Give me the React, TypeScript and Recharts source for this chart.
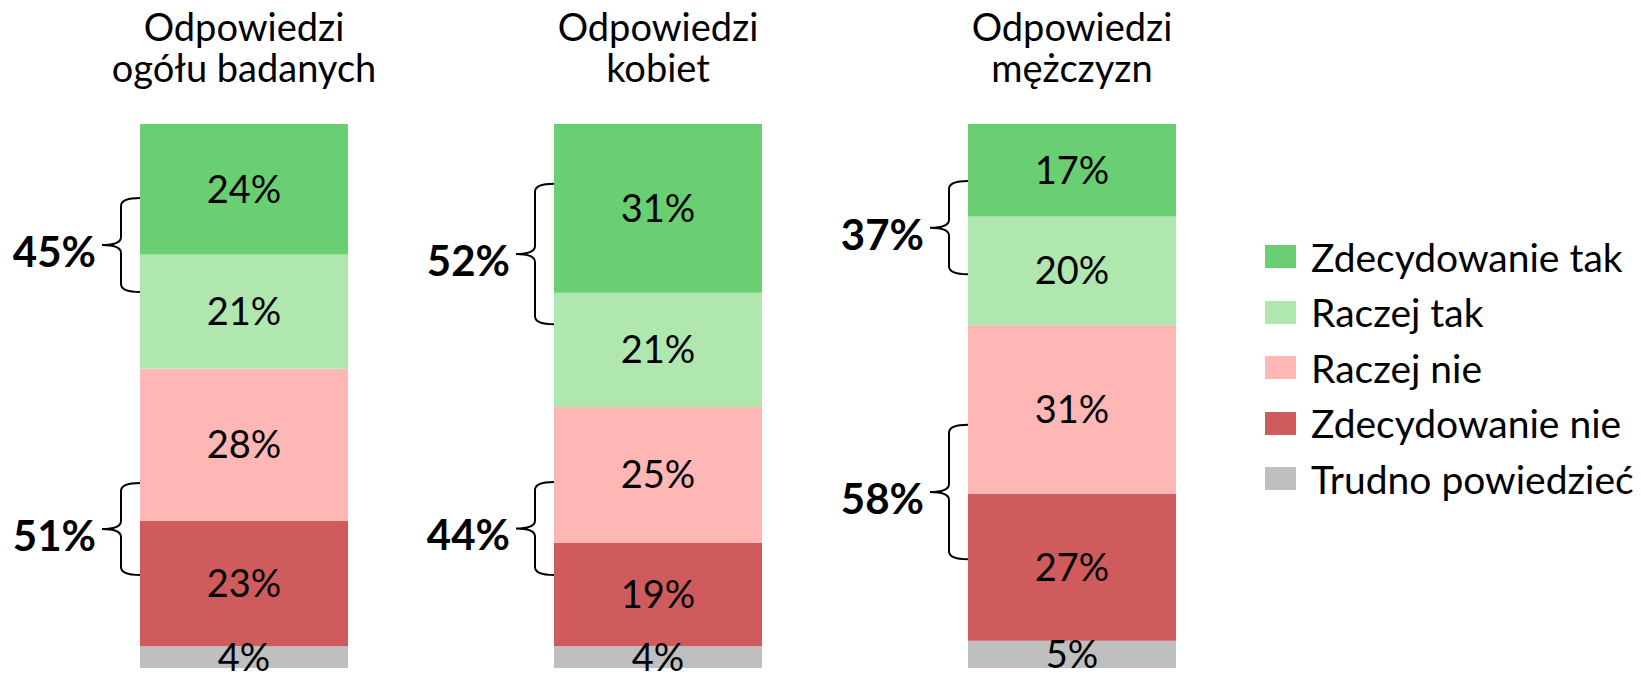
import React from 'react';
import { BarChart, Bar, XAxis, YAxis, LabelList } from 'recharts';

const categories = ['Odpowiedzi\nogółu badanych', 'Odpowiedzi\nkobiet', 'Odpowiedzi\nmężczyzn'];
const zdecydowanieTak = [24, 31, 17];
const raczejTak = [21, 21, 20];
const raczejNie = [28, 25, 31];
const zdecydowanieNie = [23, 19, 27];
const trudno = [4, 4, 5];

// summed answers shown next to the braces
const sumTak = [45, 52, 37];
const sumNie = [51, 44, 58];
// brace spans on the value axis [from, to]
const braceTak = [[86.4, 69.1], [89.0, 63.2], [89.5, 72.4]];
const braceNie = [[34.0, 17.1], [34.2, 17.1], [44.7, 20.0]];

const series = [
  { key: 'zt', name: 'Zdecydowanie tak', color: '#69cf72' },
  { key: 'rt', name: 'Raczej tak', color: '#afe7af' },
  { key: 'rn', name: 'Raczej nie', color: '#ffb7b6' },
  { key: 'zn', name: 'Zdecydowanie nie', color: '#d05b5c' },
  { key: 'tp', name: 'Trudno powiedzieć', color: '#bfbfbf' },
];

const data = categories.map((c, i) => ({
  name: c,
  zt: zdecydowanieTak[i],
  rt: raczejTak[i],
  rn: raczejNie[i],
  zn: zdecydowanieNie[i],
  tp: trudno[i],
}));

const FONT = 'Lato, "Open Sans", sans-serif';

const TitleTick = ({ x, y, payload }: any) => {
  const lines = String(payload.value).split('\n');
  return (
    <g>
      <text x={x} y={y - 83} textAnchor="middle" fontFamily={FONT} fontSize={38} fill="#000">{lines[0]}</text>
      <text x={x} y={y - 42} textAnchor="middle" fontFamily={FONT} fontSize={38} fill="#000">{lines[1]}</text>
    </g>
  );
};

const bracePath = (bx: number, top: number, bot: number) => {
  const vx = bx - 19;
  const tx = bx - 38;
  const mid = (top + bot) / 2;
  const r = 8;
  return [
    `M${bx},${top}`,
    `Q${vx},${top} ${vx},${top + r}`,
    `L${vx},${mid - r}`,
    `Q${vx},${mid} ${tx},${mid}`,
    `Q${vx},${mid} ${vx},${mid + r}`,
    `L${vx},${bot - r}`,
    `Q${vx},${bot} ${bx},${bot}`,
  ].join(' ');
};

// drawn from the bottom segment: its rect gives the baseline and the px per %
const renderBraces = (props: any) => {
  const vb = props.viewBox ?? props;
  const x = vb.x ?? props.x;
  const y = vb.y ?? props.y;
  const height = vb.height ?? props.height;
  const i = props.index;
  if (x == null || i == null) return null;
  const base = y + height;
  const ppp = height / trudno[i];
  const toY = (v: number) => base - v * ppp;
  const groups = [
    { span: braceTak[i], sum: sumTak[i] },
    { span: braceNie[i], sum: sumNie[i] },
  ];
  return (
    <g key={`brace-${i}`}>
      {groups.map((g, k) => {
        const top = toY(g.span[0]);
        const bot = toY(g.span[1]);
        const mid = (top + bot) / 2;
        return (
          <g key={k}>
            <path d={bracePath(x, top, bot)} fill="none" stroke="#000" strokeWidth={2} />
            <text x={x - 44} y={mid + 6} textAnchor="end" dominantBaseline="central"
              fontFamily={FONT} fontSize={42} fontWeight={700} fill="#000">
              {g.sum}%
            </text>
          </g>
        );
      })}
    </g>
  );
};

const pct = (v: any) => `${v}%`;

export default function App() {
  const stackOrder = [...series].reverse();
  return (
    <div style={{ position: 'absolute', left: 0, top: 0, width: 1641, height: 674, background: '#fff', overflow: 'hidden' }}>
      <BarChart width={1641} height={700} data={data}
        margin={{ top: 0, right: 362, bottom: 32, left: 37 }}>
        <XAxis dataKey="name" orientation="top" height={124} axisLine={false} tickLine={false}
          tickSize={0} tickMargin={0} interval={0} tick={<TitleTick />} />
        <YAxis hide domain={[0, 100]} />
        {stackOrder.map((s) => (
          <Bar key={s.key} dataKey={s.key} name={s.name} stackId="a" fill={s.color}
            barSize={208} isAnimationActive={false}>
            <LabelList dataKey={s.key} position="center" formatter={pct}
              fill="#000" fontSize={38} fontFamily={FONT} />
            {s.key === 'tp' && <LabelList dataKey="tp" content={renderBraces} />}
          </Bar>
        ))}
      </BarChart>
      <div style={{ position: 'absolute', left: 1265, top: 229, fontFamily: FONT, fontSize: 39, color: '#000', whiteSpace: 'nowrap' }}>
        {series.map((s) => (
          <div key={s.key} style={{ height: 55.5, display: 'flex', alignItems: 'center' }}>
            <span style={{ display: 'inline-block', width: 31, height: 23, background: s.color, marginRight: 15 }} />
            <span>{s.name}</span>
          </div>
        ))}
      </div>
    </div>
  );
}
